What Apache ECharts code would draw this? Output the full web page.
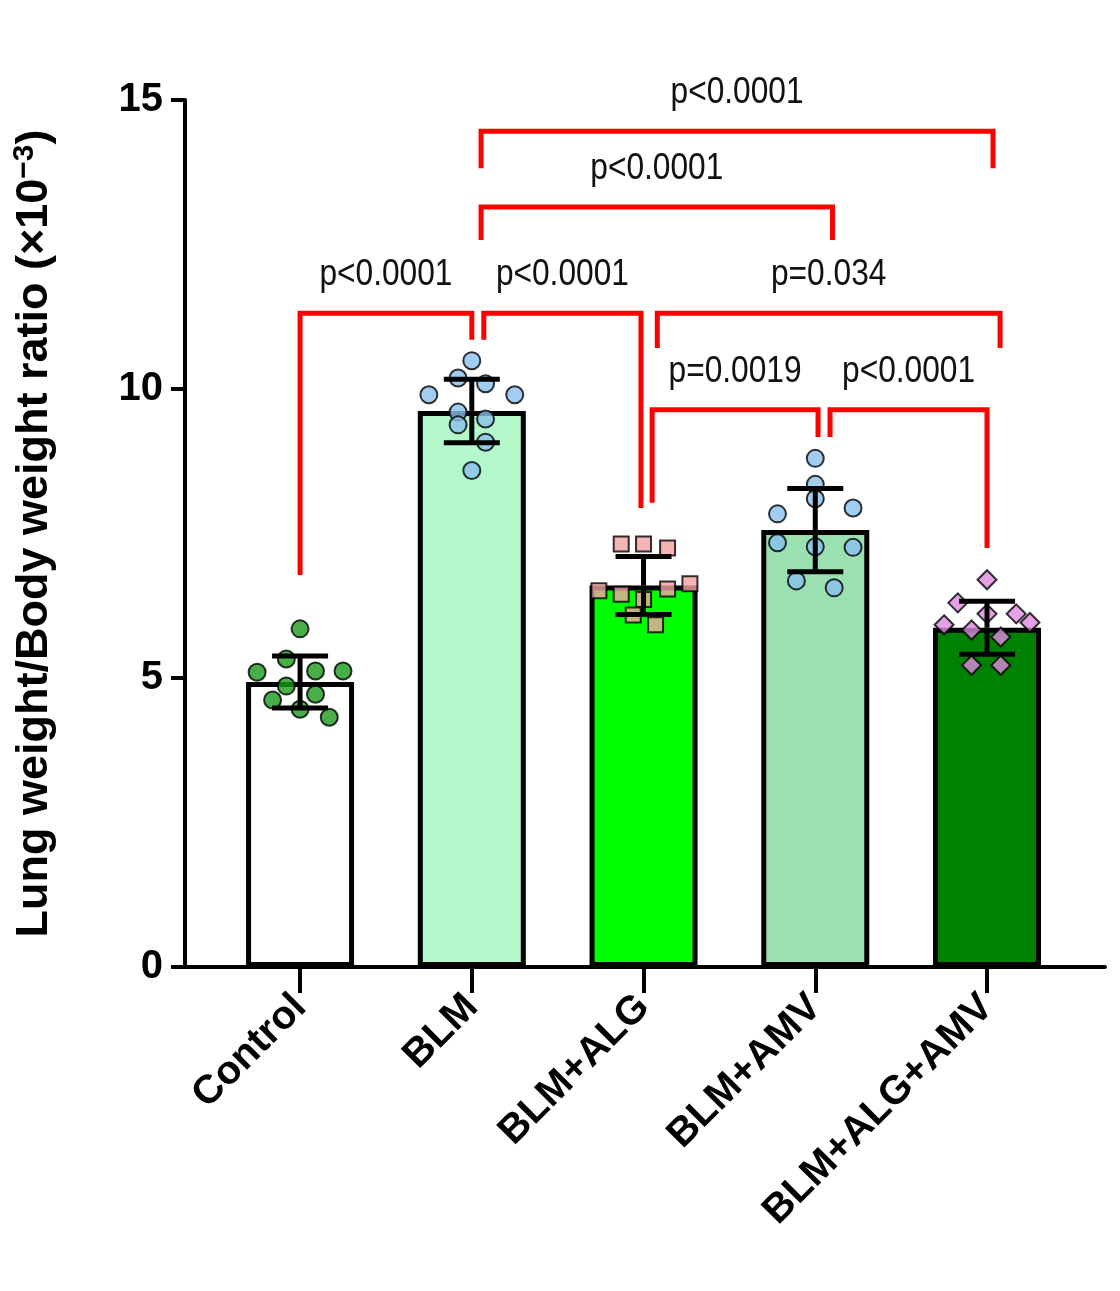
<!DOCTYPE html>
<html>
<head>
<meta charset="utf-8">
<script src="https://cdn.jsdelivr.net/npm/echarts@6/dist/echarts.min.js"></script>
<style>html,body{margin:0;background:#fff}#chart{width:1120px;height:1291px}</style>
</head>
<body>
<div id="chart"></div>
<script>
var groups = ['Control', 'BLM', 'BLM+ALG', 'BLM+AMV', 'BLM+ALG+AMV'];
var means = [4.93, 9.62, 6.6, 7.56, 5.87];
var sds = [0.45, 0.55, 0.5, 0.72, 0.46];
var barColors = ['#ffffff', '#b3f9cb', '#00ff00', '#9ae0b0', '#008000'];

// individual animals (group index, jitter, value)
var ctrlPts = [[0, 0, 5.85], [0, -0.08, 5.33], [0, -0.25, 5.10], [0, 0.09, 5.12], [0, 0.25, 5.12], [0, -0.08, 4.86], [0, -0.16, 4.62], [0, 0.09, 4.72], [0, 0, 4.46], [0, 0.17, 4.32]];
var blmPts = [[1, 0, 10.49], [1, -0.08, 10.19], [1, 0.08, 10.09], [1, -0.25, 9.90], [1, 0.25, 9.90], [1, -0.08, 9.60], [1, 0.08, 9.48], [1, -0.08, 9.38], [1, 0.08, 9.08], [1, 0, 8.59]];
var algPts = [[2, -0.13, 7.32], [2, 0, 7.32], [2, 0.14, 7.25], [2, -0.26, 6.51], [2, -0.13, 6.45], [2, 0, 6.36], [2, 0.14, 6.54], [2, 0.27, 6.63], [2, -0.06, 6.09], [2, 0.07, 5.92]];
var amvPts = [[3, 0, 8.80], [3, 0, 8.35], [3, 0, 8.10], [3, -0.22, 7.84], [3, 0.22, 7.94], [3, -0.22, 7.34], [3, 0, 7.27], [3, 0.22, 7.26], [3, -0.11, 6.68], [3, 0.11, 6.56]];
var comboPts = [[4, 0, 6.70], [4, -0.17, 6.30], [4, 0, 6.11], [4, 0.17, 6.11], [4, 0.25, 5.96], [4, -0.25, 5.92], [4, -0.09, 5.83], [4, 0.08, 5.71], [4, -0.09, 5.22], [4, 0.08, 5.22]];

// brackets: [xLeft, xRight, yTop, yLeftEnd, yRightEnd, label]
var brackets = [
  [0, 1.0, 11.31, 6.78, 10.85, 'p<0.0001'],
  [1.07, 1.985, 11.31, 10.85, 7.94, 'p<0.0001'],
  [1.054, 3.10, 13.15, 12.58, 12.58, 'p<0.0001'],
  [1.054, 4.035, 14.46, 13.82, 13.82, 'p<0.0001'],
  [2.08, 4.076, 11.31, 10.71, 10.71, 'p=0.034'],
  [2.05, 3.016, 9.64, 8.03, 9.17, 'p=0.0019'],
  [3.086, 4.0, 9.64, 9.17, 7.25, 'p<0.0001']
];

var yTicks = [0, 5, 10, 15];
var xTicks = [0, 1, 2, 3, 4];

var chart = echarts.init(document.getElementById('chart'));

function scatterSeries(pts, symbol, color, size) {
  return {
    type: 'scatter', data: pts.map(function (p) { return [p[0] + p[1], p[2]]; }),
    symbol: symbol, symbolSize: size, z: 3,
    itemStyle: { color: color, borderColor: '#000', borderWidth: 2 }
  };
}

var option = {
  animation: false,
  backgroundColor: '#fff',
  grid: { left: 185, right: 15, top: 100, bottom: 324 },
  xAxis: {
    type: 'value', min: -0.67, max: 4.687,
    splitLine: { show: false },
    axisLine: { onZero: false, lineStyle: { color: '#000', width: 4 } },
    axisTick: { show: true, length: 26, customValues: xTicks, lineStyle: { color: '#000', width: 4 } },
    axisLabel: {
      customValues: xTicks, rotate: 45, margin: 34, color: '#000',
      fontFamily: 'Liberation Sans, Arial', fontWeight: 'bold', fontSize: 40,
      formatter: function (v) { return groups[Math.round(v)]; }
    }
  },
  yAxis: {
    type: 'value', min: 0, max: 15, interval: 5,
    splitLine: { show: false },
    axisLine: { show: true, onZero: false, lineStyle: { color: '#000', width: 4 } },
    axisTick: { show: true, length: 14, lineStyle: { color: '#000', width: 4 } },
    axisLabel: { color: '#000', margin: 22, fontFamily: 'Liberation Sans, Arial', fontWeight: 'bold', fontSize: 40 },
    name: '{t|Lung weight/Body weight ratio (×10}{s|−3}{t|)}',
    nameLocation: 'middle', nameGap: 125,
    nameTextStyle: {
      rich: {
        t: { fontFamily: 'Liberation Sans, Arial', fontWeight: 'bold', fontSize: 45, color: '#000' },
        s: { fontFamily: 'Liberation Sans, Arial', fontWeight: 'bold', fontSize: 30, color: '#000', verticalAlign: 'top', padding: [0, 0, 20, 0] }
      }
    }
  },
  series: [
    {
      type: 'bar', barWidth: 108, z: 2,
      data: means.map(function (m, i) { return { value: [i, m], itemStyle: { color: barColors[i] } }; }),
      itemStyle: { borderColor: '#000', borderWidth: 5 }
    },
    scatterSeries(ctrlPts, 'circle', '#1a9a1a', 17),
    scatterSeries(blmPts, 'circle', '#88c0ee', 17),
    scatterSeries(algPts, 'rect', '#f4a3a3', 15),
    scatterSeries(amvPts, 'circle', '#88c0ee', 17),
    scatterSeries(comboPts, 'diamond', '#de8ade', 19),
    {
      type: 'custom', z: 4,
      data: means.map(function (m, i) { return [i, m, sds[i]]; }),
      renderItem: function (params, api) {
        var x = api.value(0), m = api.value(1), s = api.value(2);
        var hi = api.coord([x, m + s]), lo = api.coord([x, m - s]), mid = api.coord([x, m]);
        var w = 28, st = { stroke: '#000', lineWidth: 5 };
        return { type: 'group', children: [
          { type: 'line', shape: { x1: hi[0], y1: hi[1], x2: mid[0], y2: mid[1] }, style: st },
          { type: 'line', shape: { x1: lo[0], y1: lo[1], x2: mid[0], y2: mid[1] }, style: st },
          { type: 'line', shape: { x1: hi[0] - w, y1: hi[1], x2: hi[0] + w, y2: hi[1] }, style: st },
          { type: 'line', shape: { x1: lo[0] - w, y1: lo[1], x2: lo[0] + w, y2: lo[1] }, style: st }
        ] };
      }
    },
    {
      type: 'custom', z: 5,
      data: brackets,
      renderItem: function (params, api) {
        var b = brackets[params.dataIndex];
        var a = api.coord([b[0], b[3]]), tl = api.coord([b[0], b[2]]);
        var tr = api.coord([b[1], b[2]]), c = api.coord([b[1], b[4]]);
        return { type: 'group', children: [
          { type: 'polyline', shape: { points: [a, tl, tr, c] }, style: { stroke: '#ff0000', lineWidth: 5, fill: null } },
          { type: 'text', x: (tl[0] + tr[0]) / 2, y: tl[1] - 20, scaleX: 0.88,
            style: { text: b[5], fill: '#111', font: '36px "Liberation Sans", Arial', align: 'center', verticalAlign: 'bottom' } }
        ] };
      }
    }
  ]
};
chart.setOption(option);
</script>
</body>
</html>
